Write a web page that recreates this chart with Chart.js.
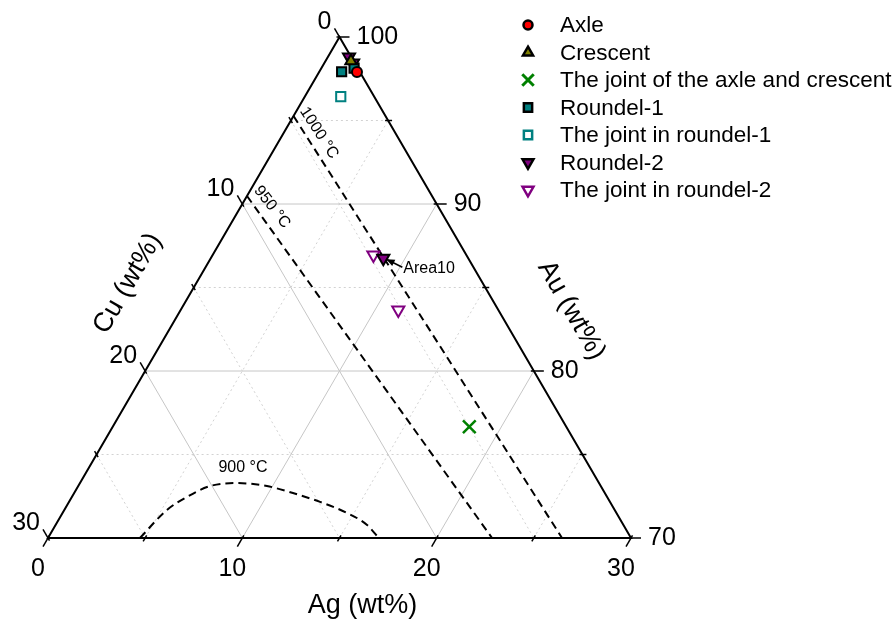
<!DOCTYPE html>
<html>
<head>
<meta charset="utf-8">
<script src="https://cdn.jsdelivr.net/npm/chart.js"></script>
<style>
  html, body { margin: 0; padding: 0; background: #fff; }
  #wrap { width: 894px; height: 620px; position: relative; }
</style>
</head>
<body>
<div id="wrap"><canvas id="chart"></canvas></div>
<script>
// Ag-Cu-Au ternary (wt%), Au is the balance: Au = 100 - Ag - Cu
const seriesNames = ['Axle', 'Crescent', 'The joint of the axle and crescent', 'Roundel-1',
  'The joint in roundel-1', 'Roundel-2', 'The joint in roundel-2'];

const axleAg = [1.95];
const axleCu = [0.15];
const crescentAg = [1.31];
const crescentCu = [0.13];
const jointAxleCrescentAg = [18.35];
const jointAxleCrescentCu = [4.99];
const roundel1Ag = [1.15, 1.68];
const roundel1Cu = [0.93, 0.18];
const jointRoundel1Ag = [1.85];
const jointRoundel1Cu = [1.72];
const roundel2Ag = [1.09, 1.48, 8.88];
const roundel2Cu = [0.11, 0.08, 4.37];
const jointRoundel2Ag = [8.27, 11.2];
const jointRoundel2Cu = [4.78, 5.15];

// isotherms
const iso1000Ag = [0, 26.45];
const iso1000Cu = [4.73, 3.55];
const iso950Ag = [0, 22.85];
const iso950Cu = [9.52, 7.15];
const iso900Ag = [4.73, 5.28, 5.92, 6.78, 8.08, 9.71, 11.26, 12.92, 14.64, 16.03, 16.95];
const iso900Cu = [25.27, 23.04, 21.62, 20.11, 18.63, 17.18, 16.05, 14.92, 13.86, 13.19, 12.99];

// axis ticks
const agTicks = [0, 10, 20, 30];
const cuTicks = [0, 10, 20, 30];
const auTicks = [70, 80, 90, 100];
const minorTicks = [5, 15, 25];
const gridSteps = [5, 10, 15, 20, 25];

const SPAN = 30;
const H = Math.sqrt(3) / 2;
const FONT = 'Arial, "Liberation Sans", sans-serif';

// ternary -> cartesian (x along Ag, y up towards Au=100)
function tern(ag, cu) {
  const au = SPAN - ag - cu;
  return { x: ag + au / 2, y: au * H };
}
function toPoints(ags, cus) {
  return ags.map((a, i) => tern(a, cus[i]));
}
function px(chart, ag, cu) {
  const p = tern(ag, cu);
  return [chart.scales.x.getPixelForValue(p.x), chart.scales.y.getPixelForValue(p.y)];
}

function line(ctx, a, b) {
  ctx.beginPath();
  ctx.moveTo(a[0], a[1]);
  ctx.lineTo(b[0], b[1]);
  ctx.stroke();
}

// grid, frame, ticks and axis labels
const ternaryFrame = {
  id: 'ternaryFrame',
  beforeDatasetsDraw(chart) {
    const ctx = chart.ctx;
    ctx.save();
    gridSteps.forEach(v => {
      const major = v % 10 === 0;
      ctx.strokeStyle = major ? '#c6c6c6' : '#d2d2d2';
      ctx.lineWidth = 1;
      ctx.setLineDash(major ? [] : [2, 3]);
      line(ctx, px(chart, 0, SPAN - v), px(chart, SPAN - v, 0)); // Au const
      line(ctx, px(chart, v, SPAN - v), px(chart, v, 0));        // Ag const
      line(ctx, px(chart, 0, v), px(chart, SPAN - v, v));        // Cu const
    });
    ctx.setLineDash([]);

    // frame
    ctx.strokeStyle = '#000';
    ctx.lineWidth = 2;
    const a = px(chart, 0, SPAN), b = px(chart, SPAN, 0), c = px(chart, 0, 0);
    ctx.beginPath();
    ctx.moveTo(a[0], a[1]);
    ctx.lineTo(b[0], b[1]);
    ctx.lineTo(c[0], c[1]);
    ctx.closePath();
    ctx.stroke();

    // ticks
    const tick = (p, d, inn, out) => {
      line(ctx, [p[0] - d[0] * inn, p[1] - d[1] * inn], [p[0] + d[0] * out, p[1] + d[1] * out]);
    };
    const dAg = [-0.5, H], dAu = [1, 0], dCu = [-0.5, -H];
    ctx.lineWidth = 1.5;
    agTicks.forEach(v => tick(px(chart, v, SPAN - v), dAg, 3, 10));
    auTicks.forEach(v => tick(px(chart, 100 - v, 0), dAu, 3, 10));
    cuTicks.forEach(v => tick(px(chart, 0, v), dCu, 3, 10));
    minorTicks.forEach(v => {
      tick(px(chart, v, SPAN - v), dAg, 3, 4);
      tick(px(chart, SPAN - v, 0), dAu, 3, 4);
      tick(px(chart, 0, v), dCu, 3, 4);
    });

    // tick labels
    ctx.fillStyle = '#000';
    ctx.font = '25px ' + FONT;
    ctx.textBaseline = 'middle';
    ctx.textAlign = 'center';
    agTicks.forEach(v => {
      const p = px(chart, v, SPAN - v);
      ctx.fillText(String(v), p[0] - 10, p[1] + 31);
    });
    ctx.textAlign = 'left';
    auTicks.forEach(v => {
      const p = px(chart, 100 - v, 0);
      ctx.fillText(String(v), p[0] + 17, p[1]);
    });
    ctx.textAlign = 'right';
    cuTicks.forEach(v => {
      const p = px(chart, 0, v);
      ctx.fillText(String(v), p[0] - 8, p[1] - 15);
    });

    // axis titles
    ctx.font = '27px ' + FONT;
    ctx.textAlign = 'center';
    const mb = px(chart, SPAN / 2, SPAN / 2);
    ctx.fillText('Ag (wt%)', mb[0] + 23, mb[1] + 68);
    const ml = px(chart, 0, SPAN / 2);
    ctx.save();
    ctx.translate(ml[0] - 66, ml[1] - 4);
    ctx.rotate(-Math.PI / 3);
    ctx.fillText('Cu (wt%)', 0, 0);
    ctx.restore();
    const mr = px(chart, SPAN / 2, 0);
    ctx.save();
    ctx.translate(mr[0] + 86, mr[1] + 23);
    ctx.rotate(Math.PI / 3);
    ctx.fillText('Au (wt%)', 0, 0);
    ctx.restore();
    ctx.restore();
  },
  afterDatasetsDraw(chart) {
    const ctx = chart.ctx;
    ctx.save();
    ctx.fillStyle = '#000';
    ctx.textAlign = 'center';
    ctx.textBaseline = 'middle';
    ctx.font = '16px ' + FONT;
    const rotText = (txt, p, deg) => {
      ctx.save();
      ctx.translate(p[0], p[1]);
      ctx.rotate(deg * Math.PI / 180);
      ctx.fillText(txt, 0, 0);
      ctx.restore();
    };
    rotText('1000 \u00B0C', px(chart, 1.82, 3.93), 57);
    rotText('950 \u00B0C', px(chart, 1.62, 8.56), 52);
    rotText('900 \u00B0C', px(chart, 7.94, 17.87), 0);

    // Area10 arrow to the last Roundel-2 point
    const t = px(chart, roundel2Ag[2], roundel2Cu[2]);
    const tip = [t[0] + 3, t[1] + 1];
    const tail = [t[0] + 19, t[1] + 9];
    ctx.strokeStyle = '#000';
    ctx.lineWidth = 1.5;
    line(ctx, tail, tip);
    const ang = Math.atan2(tip[1] - tail[1], tip[0] - tail[0]);
    ctx.beginPath();
    ctx.moveTo(tip[0], tip[1]);
    ctx.lineTo(tip[0] - 9 * Math.cos(ang - 0.4), tip[1] - 9 * Math.sin(ang - 0.4));
    ctx.lineTo(tip[0] - 9 * Math.cos(ang + 0.4), tip[1] - 9 * Math.sin(ang + 0.4));
    ctx.closePath();
    ctx.fill();
    ctx.textAlign = 'left';
    ctx.fillText('Area10', tail[0] + 1, tail[1] + 1);
    ctx.restore();
  }
};

// legend drawn with the datasets' own point styles
const ternaryLegend = {
  id: 'ternaryLegend',
  afterDraw(chart) {
    const ctx = chart.ctx;
    ctx.save();
    ctx.font = '22.5px ' + FONT;
    ctx.textAlign = 'left';
    ctx.textBaseline = 'middle';
    ctx.fillStyle = '#000';
    seriesNames.forEach((name, i) => {
      const ds = chart.data.datasets[i];
      const y = 25 + i * 27.5;
      ctx.save();
      ctx.fillStyle = ds.pointBackgroundColor || ds.backgroundColor;
      ctx.strokeStyle = ds.pointBorderColor || ds.borderColor;
      ctx.lineWidth = ds.pointBorderWidth + 0.5;
      Chart.helpers.drawPoint(ctx, {
        pointStyle: ds.pointStyle,
        radius: ds.pointRadius * 0.9,
        rotation: ds.pointRotation || 0,
        borderWidth: ds.pointBorderWidth + 0.5
      }, 528, y);
      ctx.restore();
      ctx.fillText(name, 560, y + 1);
    });
    ctx.restore();
  }
};

function markers(i, ags, cus, style) {
  return Object.assign({
    label: seriesNames[i],
    data: toPoints(ags, cus),
    showLine: false,
    clip: false,
    order: 1
  }, style);
}
function isoLine(ags, cus) {
  return {
    label: '',
    data: toPoints(ags, cus),
    showLine: true,
    pointRadius: 0,
    borderColor: '#000',
    borderWidth: 2,
    borderDash: [8, 5],
    cubicInterpolationMode: 'monotone',
    clip: false,
    order: 5
  };
}

new Chart(document.getElementById('chart'), {
  type: 'scatter',
  data: {
    datasets: [
      markers(0, axleAg, axleCu, { pointStyle: 'circle', pointRadius: 5, pointBackgroundColor: '#ff0000', pointBorderColor: '#000', pointBorderWidth: 2 }),
      markers(1, crescentAg, crescentCu, { pointStyle: 'triangle', pointRadius: 6.5, pointBackgroundColor: '#808000', pointBorderColor: '#000', pointBorderWidth: 2 }),
      markers(2, jointAxleCrescentAg, jointAxleCrescentCu, { pointStyle: 'crossRot', pointRadius: 9, pointBackgroundColor: '#008000', pointBorderColor: '#008000', pointBorderWidth: 2.5 }),
      markers(3, roundel1Ag, roundel1Cu, { pointStyle: 'rect', pointRadius: 6.5, pointBackgroundColor: '#008080', pointBorderColor: '#000', pointBorderWidth: 2 }),
      markers(4, jointRoundel1Ag, jointRoundel1Cu, { pointStyle: 'rect', pointRadius: 6.5, pointBackgroundColor: '#ffffff', pointBorderColor: '#008080', pointBorderWidth: 2 }),
      markers(5, roundel2Ag, roundel2Cu, { pointStyle: 'triangle', pointRotation: 180, pointRadius: 7, pointBackgroundColor: '#800080', pointBorderColor: '#000', pointBorderWidth: 2 }),
      markers(6, jointRoundel2Ag, jointRoundel2Cu, { pointStyle: 'triangle', pointRotation: 180, pointRadius: 7, pointBackgroundColor: '#ffffff', pointBorderColor: '#800080', pointBorderWidth: 2 }),
      isoLine(iso1000Ag, iso1000Cu),
      isoLine(iso950Ag, iso950Cu),
      isoLine(iso900Ag, iso900Cu)
    ]
  },
  options: {
    responsive: true,
    maintainAspectRatio: false,
    animation: false,
    layout: { padding: { left: 48, right: 263, top: 37, bottom: 82 } },
    scales: {
      x: { type: 'linear', min: 0, max: SPAN, display: false },
      y: { type: 'linear', min: 0, max: SPAN * H, display: false }
    },
    plugins: {
      legend: { display: false },
      tooltip: { enabled: false }
    }
  },
  plugins: [ternaryFrame, ternaryLegend]
});
</script>
</body>
</html>
